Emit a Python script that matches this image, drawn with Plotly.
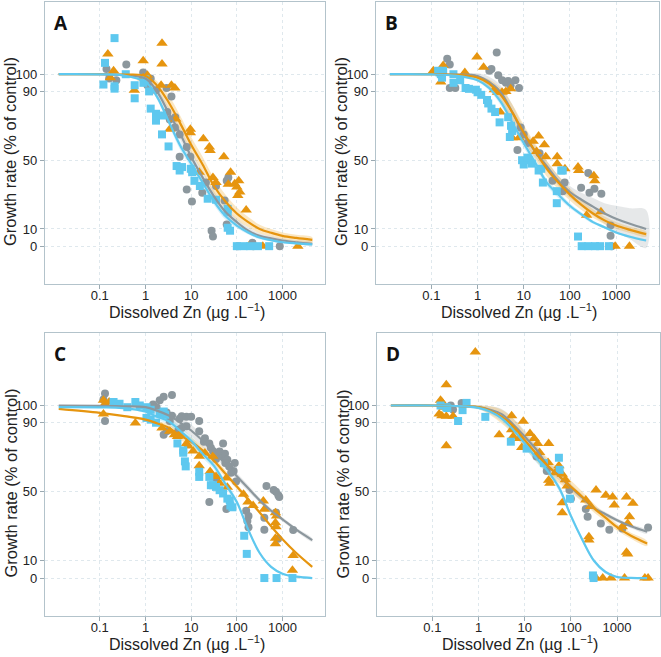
import plotly.graph_objects as go

# ---------------- data ----------------
PANELS = ["A", "B", "C", "D"]

# observed points: x = dissolved Zn (ug/L), y = growth rate (% of control)
A_grey_x = [0.14, 0.16, 0.23, 0.38, 0.89, 1.1, 1.3, 1.7, 2.9, 3.7, 3.4, 4.4, 5.6, 5.6, 8, 9.6, 8, 10.4, 17.5, 21, 35, 54, 60, 65, 60, 28, 30, 105, 220, 230, 870, 4.5, 3.0]
A_grey_y = [103, 97.5, 96.5, 105.6, 101, 93.6, 97.5, 90.7, 92, 87, 73.6, 69, 65, 52, 57.7, 52, 33, 26, 31, 37, 35, 26.6, 38, 40, 12.6, 9, 5.6, 0, 2, 0, 0, 75, 78]
A_orange_x = [0.15, 0.2, 0.17, 0.57, 0.89, 1.1, 0.89, 2.3, 2.3, 2.2, 3.7, 4.4, 4.6, 3.4, 9.6, 9.6, 18.5, 25, 26, 52, 73, 35, 90, 100, 116, 160, 15, 180, 370, 2170, 105, 30, 110, 65]
A_orange_y = [111.7, 102, 98, 90.7, 107.8, 99.4, 98, 118, 106, 93.6, 93.6, 92, 74, 68, 68, 66, 62.5, 57.7, 55.7, 52, 43, 37, 36.3, 34.4, 31.5, 21, 43, 0, 0, 0, 29.5, 40, 38, 36]
A_blue_x = [0.13, 0.21, 0.12, 0.21, 0.21, 0.37, 0.58, 0.58, 1.3, 1.7, 1.7, 2.3, 2.3, 3.2, 4.8, 5.6, 6.3, 9.8, 10.5, 11.8, 15.5, 23, 35, 63, 63, 63, 71, 100, 140, 195, 290, 510, 1.0, 1.2, 0.9]
A_blue_y = [106.6, 121, 94, 93, 91.6, 100, 93.6, 86, 80, 77, 73, 76, 65, 58, 46.6, 44, 46, 45, 43, 38, 35, 27.6, 27, 21.7, 19.8, 10.7, 9, 0, 0, 0, 0, 0, 97, 90, 95]

B_grey_x = [0.22, 0.25, 0.25, 0.33, 1.8, 2.0, 2.6, 2.8, 3.4, 4.1, 4.6, 5.2, 6.6, 7.9, 7.3, 8.6, 22, 42, 77, 70, 175, 250, 265, 340, 480, 760, 760, 800, 10, 12]
B_grey_y = [109, 105.6, 92, 92, 102, 103, 112.6, 99.4, 96.5, 95, 96, 93.5, 96.5, 92, 56, 69, 54, 38, 37, 32, 34, 42.5, 31, 33.4, 30.5, 12, 6, 0, 65, 60]
B_orange_x = [0.11, 0.16, 0.18, 0.53, 0.97, 1.35, 2.3, 2.7, 3.4, 4.1, 5.2, 3.1, 5.6, 7.9, 16, 21, 19, 30, 28, 53, 53, 78, 150, 155, 330, 345, 230, 470, 955, 1950]
B_orange_y = [102, 95.5, 105, 101, 110, 104, 91, 89.5, 89.5, 90, 91.5, 78, 63, 63, 61, 64, 55, 52, 59, 52, 48, 45, 46, 44, 41, 38, 18, 20, 0, 0]
B_blue_x = [0.14, 0.16, 0.17, 0.15, 0.18, 0.3, 0.3, 0.42, 0.55, 0.65, 0.92, 1.0, 1.2, 1.6, 1.7, 2.0, 2.4, 3.0, 4.6, 5.3, 5.0, 5.6, 9.2, 10, 12.8, 12, 15, 21, 24, 26, 52, 52, 150, 180, 250, 350, 450, 700, 65, 70]
B_blue_y = [102, 100, 98, 101, 102, 100, 95, 96.5, 92, 91.5, 91, 89.5, 88, 85, 83, 80, 78, 72, 75, 70, 63.5, 67, 50, 47.5, 50, 51.5, 48, 44, 45, 37, 32, 25, 5.6, 0, 0, 0, 0, 0, 44, 44]

C_grey_x = [0.13, 0.13, 0.12, 1.47, 1.75, 2.05, 2.5, 3.8, 2.9, 3.8, 3.4, 2.5, 2.9, 5.6, 6.2, 7.9, 10, 5.3, 6.2, 7.9, 15, 15, 20, 19, 25, 27, 30, 33, 35, 38, 42, 50, 52, 55, 62, 56, 68, 90, 85, 96, 35, 75, 25, 59, 160, 180, 170, 180, 445, 640, 720, 810, 850, 400, 400, 720, 800, 1710]
C_grey_y = [107, 91, 103.5, 100.6, 99, 103, 105, 106, 96, 94, 91, 83, 85, 92.3, 93.8, 93.4, 93.4, 86, 87, 88, 91, 85, 81, 79, 77.9, 75.5, 73.6, 71.6, 69, 72.4, 73.4, 78, 70, 72, 68.5, 66.6, 64.7, 66.6, 62, 56, 58, 61, 44, 40, 39, 36, 33, 29.5, 53.4, 51, 50, 48, 47, 35, 28, 38, 22.8, 27.8]
C_orange_x = [0.12, 0.13, 0.16, 0.12, 0.6, 2.3, 3.4, 4.3, 5.0, 5.6, 7.9, 8.6, 11, 15, 15, 20, 30, 26, 30, 35, 42, 59, 62, 140, 175, 227, 380, 400, 700, 700, 720, 700, 700, 1710, 1650, 740]
C_orange_y = [103, 101, 102, 95, 89.9, 87, 85, 83, 82, 83, 78, 76.5, 73.6, 70.6, 65, 72.4, 70.6, 61.7, 58.8, 58.8, 55, 58, 52.6, 48.5, 44, 42, 44.6, 39.8, 37.8, 32, 29.7, 19.8, 23, 13, 4.5, 36]
C_blue_x = [0.2, 0.27, 0.4, 0.6, 0.75, 1.05, 1.3, 2.05, 2.5, 2.7, 1.05, 1.3, 1.7, 5.0, 6.7, 6.7, 7.3, 7.6, 15, 15, 25, 27, 30, 35, 42, 50, 62, 70, 80, 72, 145, 165, 400, 740, 1650]
C_blue_y = [102, 101, 99, 102, 100, 99, 97.5, 95.5, 96.5, 94.6, 92.8, 91.8, 90, 78, 74, 72.6, 67.6, 64.7, 61.6, 58.6, 58.6, 53.8, 53.8, 52.8, 50.9, 49, 46, 45, 41, 42, 24.5, 14, 0, 0, 0]

D_grey_x = [0.28, 0.43, 18, 30, 93, 210, 230, 445, 680, 1300, 4700, 100, 0.25]
D_grey_y = [97.7, 101.5, 70.5, 62, 51, 40, 35.5, 31.6, 28, 28.7, 29.3, 46, 100]
D_orange_x = [0.85, 0.2, 0.15, 0.16, 0.18, 0.14, 0.16, 0.28, 0.2, 0.2, 2.8, 5.2, 5.6, 5.2, 9.3, 8.6, 7.7, 13, 16, 19, 33, 21, 32, 35, 46, 55, 33, 65, 76, 83, 65, 65,
              210, 270, 350, 570, 800, 870, 1600, 1860, 1700, 2200, 1300, 1600, 1700, 245, 245,
              350, 490, 740, 1450, 4000, 4700]
D_orange_y = [131, 112, 103, 102, 99, 95, 94, 93.8, 93.8, 76.7, 83, 94, 82, 86, 90.9, 75.7, 80.8, 83.7, 80.8, 77.9, 77.9, 72.8, 67, 55, 61, 65, 56.6, 60.2, 57, 53.4, 43.7, 37.9,
              45.2, 41.4, 51, 48, 47, 42.3, 47, 35.5, 31.6, 43.3, 29.7, 15, 14, 23.9, 22,
              0, 0, 0, 0, 0, 0]
D_blue_x = [0.15, 0.2, 0.21, 0.36, 0.45, 0.55, 1.4, 5, 11, 26, 55, 57, 95, 300, 310]
D_blue_y = [100, 99, 98.5, 91, 97.3, 101.5, 93.4, 79, 75, 66.6, 69.7, 62.7, 46, 1.5, 0]

# fitted dose-response curves at these concentrations
CURVE_X = [0.0126, 0.1, 0.316, 1, 1.78, 3.16, 5.62, 10, 17.8, 31.6, 56.2, 100, 178, 316, 562, 1000, 2000, 4470]

A_grey_fit = [100, 100, 99.6, 97.5, 90, 78, 66, 52, 40, 29, 20, 14, 9, 6, 4.5, 3.3, 2.3, 1.4]
A_orange_fit = [100, 100, 99.8, 99, 93.5, 84, 72, 59, 47.5, 35, 26, 19, 14, 10, 7.8, 6, 4.8, 3.7]
A_blue_fit = [100, 99.9, 99.3, 95.5, 87, 73, 59, 48, 37, 26, 17.5, 12, 8, 5, 3.5, 2.3, 1.6, 1]
B_grey_fit = [100, 100, 99.8, 99, 95.5, 89.5, 78, 65, 55, 46.5, 38, 31.5, 27, 23, 19, 16, 13, 10]
B_orange_fit = [100, 100, 99.7, 98, 94.5, 88, 78, 66, 55, 45, 37, 30, 24, 19, 15, 12, 9.5, 7]
B_blue_fit = [100, 99.9, 99.2, 96.5, 92, 84, 72, 60, 48.5, 37, 30, 23.5, 18.5, 14, 11, 8, 5.5, 3.3]
C_grey_fit = [100, 99.8, 99.5, 99, 97, 94.3, 90.3, 85.5, 79.6, 73.4, 66, 59, 52, 45, 39, 34, 28, 22]
C_orange_fit = [98, 95.7, 94, 91.8, 89.7, 87.3, 82.7, 79, 74, 68, 60.5, 53, 45.5, 38, 30, 22.5, 14.5, 6.5]
C_blue_fit = [99, 98.9, 98.5, 96.5, 93.5, 91, 85.5, 79.5, 72, 65, 54.5, 44, 28, 14.5, 6.5, 2.5, 0.8, 0]
D_grey_fit = [100, 100, 99.7, 99, 97.5, 95, 89, 82, 74.5, 65, 59, 52.5, 46.5, 40.5, 37, 33.5, 30, 26.8]
D_orange_fit = [100, 100, 99.7, 99, 97, 93.5, 88, 80, 72, 65, 59, 53, 47, 40.5, 35, 29.5, 24.5, 20]
D_blue_fit = [100, 100, 99.7, 98.6, 96.5, 92.5, 86, 78, 69.5, 62, 52, 36, 22, 10, 3.5, 0.6, 0.1, 0]

# half-width of the 95% confidence band around each fit
CI_grey = [0, 0, 0.3, 1, 2, 3, 3.5, 3.5, 3.5, 3, 2.5, 2, 1.8, 1.5, 1.3, 1.2, 1.1, 1]
CI_orange = [0, 0, 0.3, 1, 2.5, 4, 4.5, 4.5, 4.5, 4.5, 4, 3.5, 3, 2.5, 2.2, 2, 1.8, 1.5]
CI_blue = [0, 0, 0.3, 1, 1.5, 2, 2.5, 2.5, 2.5, 2, 2, 1.5, 1.2, 1, 0.8, 0.6, 0.5, 0.4]
CI_B_grey = [0, 0, 0.5, 1.5, 3, 4, 4.5, 4, 3.5, 3, 3, 3.5, 4, 5, 6, 7.5, 9, 11]

Y_TICKS = [0, 10, 50, 90, 100]
X_TICKS = [0.1, 1, 10, 100, 1000]
X_TICK_TEXT = ["0.1", "1", "10", "100", "1000"]

DATA = {
    "A": dict(grey=(A_grey_x, A_grey_y, A_grey_fit, CI_grey),
              orange=(A_orange_x, A_orange_y, A_orange_fit, CI_orange),
              blue=(A_blue_x, A_blue_y, A_blue_fit, CI_blue)),
    "B": dict(grey=(B_grey_x, B_grey_y, B_grey_fit, CI_B_grey),
              orange=(B_orange_x, B_orange_y, B_orange_fit, CI_orange),
              blue=(B_blue_x, B_blue_y, B_blue_fit, CI_blue)),
    "C": dict(grey=(C_grey_x, C_grey_y, C_grey_fit, CI_grey),
              orange=(C_orange_x, C_orange_y, C_orange_fit, CI_blue),
              blue=(C_blue_x, C_blue_y, C_blue_fit, CI_blue)),
    "D": dict(grey=(D_grey_x, D_grey_y, D_grey_fit, CI_grey),
              orange=(D_orange_x, D_orange_y, D_orange_fit, CI_orange),
              blue=(D_blue_x, D_blue_y, D_blue_fit, CI_blue)),
}

# ---------------- style ----------------
STYLE = {
    "grey": dict(color="#8c979d", band="rgba(140,151,157,0.22)", symbol="circle", size=8),
    "orange": dict(color="#e6950f", band="rgba(240,170,40,0.28)", symbol="triangle-up", size=10),
    "blue": dict(color="#5ec8ef", band="rgba(94,200,239,0.25)", symbol="square", size=8),
}
W, H = 661, 657
# plot-area pixel boxes (left, right, top, bottom)
BOXES = {"A": (45, 325, 2, 284), "B": (376, 659, 2, 284),
         "C": (45, 325, 333, 616), "D": (377, 660, 333, 616)}
FONT = "Liberation Sans, Arial, sans-serif"

fig = go.Figure()
layout = dict(width=W, height=H, margin=dict(l=0, r=0, t=0, b=0),
              paper_bgcolor="white", plot_bgcolor="white", showlegend=False,
              annotations=[])

for i, p in enumerate(PANELS):
    n = "" if i == 0 else str(i + 1)
    xa, ya = "x" + n, "y" + n
    l, r, t, b = BOXES[p]
    layout["xaxis" + n] = dict(
        type="log", range=[-2.2, 3.93], domain=[l / W, r / W], anchor=ya,
        tickvals=X_TICKS, ticktext=X_TICK_TEXT, ticks="outside", ticklen=4,
        ticklabelstandoff=-5,
        tickcolor="#9aa9b1", tickfont=dict(size=13, color="#222", family=FONT),
        showgrid=True, gridcolor="#dfe8ed", griddash="dot", gridwidth=1,
        showline=True, mirror=True, linecolor="#b3c3cb", linewidth=1.2,
        zeroline=False)
    layout["yaxis" + n] = dict(
        range=[-22, 142], domain=[1 - b / H, 1 - t / H], anchor=xa,
        tickvals=Y_TICKS, ticks="outside", ticklen=4, tickcolor="#9aa9b1",
        tickfont=dict(size=13, color="#222", family=FONT),
        showgrid=True, gridcolor="#dfe8ed", griddash="dot", gridwidth=1,
        showline=True, mirror=True, linecolor="#b3c3cb", linewidth=1.2,
        zeroline=False)
    # panel letter
    layout["annotations"].append(dict(
        text="<b>%s</b>" % p, xref="paper", yref="paper",
        x=(l + 7) / W, y=1 - (t + 21) / H, xanchor="left", yanchor="middle",
        showarrow=False, font=dict(size=19, color="#111", family="Open Sans, Arial, sans-serif")))
    # axis titles
    layout["annotations"].append(dict(
        text="Dissolved Zn (µg .L<sup>−1</sup>)", xref="paper", yref="paper",
        x=(l + r) / 2 / W + 0.003, y=1 - (b + 27) / H, xanchor="center", yanchor="middle",
        showarrow=False, font=dict(size=16, color="#222", family=FONT)))
    layout["annotations"].append(dict(
        text="Growth rate (% of control)", xref="paper", yref="paper",
        x=(l - 35) / W, y=1 - ((t + b) / 2 + 9) / H, xanchor="center", yanchor="middle",
        textangle=-90, showarrow=False, font=dict(size=16.5, color="#222", family=FONT)))

    series = DATA[p]
    # confidence bands
    for key in ["grey", "orange", "blue"]:
        sx, sy, fit, ci = series[key]
        upper = [f + c for f, c in zip(fit, ci)]
        lower = [f - c for f, c in zip(fit, ci)]
        fig.add_trace(go.Scatter(
            x=CURVE_X + CURVE_X[::-1], y=upper + lower[::-1], xaxis=xa, yaxis=ya,
            fill="toself", fillcolor=STYLE[key]["band"], mode="lines",
            line=dict(width=0, shape="spline"), hoverinfo="skip"))
    # points
    for key in ["grey", "orange", "blue"]:
        sx, sy, fit, ci = series[key]
        st = STYLE[key]
        fig.add_trace(go.Scatter(
            x=sx, y=sy, xaxis=xa, yaxis=ya, mode="markers",
            marker=dict(symbol=st["symbol"], size=st["size"], color=st["color"],
                        line=dict(width=0))))
    # fitted curves
    for key in ["grey", "orange", "blue"]:
        sx, sy, fit, ci = series[key]
        fig.add_trace(go.Scatter(
            x=CURVE_X, y=fit, xaxis=xa, yaxis=ya, mode="lines",
            line=dict(color=STYLE[key]["color"], width=2.2, shape="spline")))

fig.update_layout(**layout)
fig.write_html("out.html", config={"displayModeBar": False},
               post_script="document.body.style.margin='0';document.body.style.padding='0';")
